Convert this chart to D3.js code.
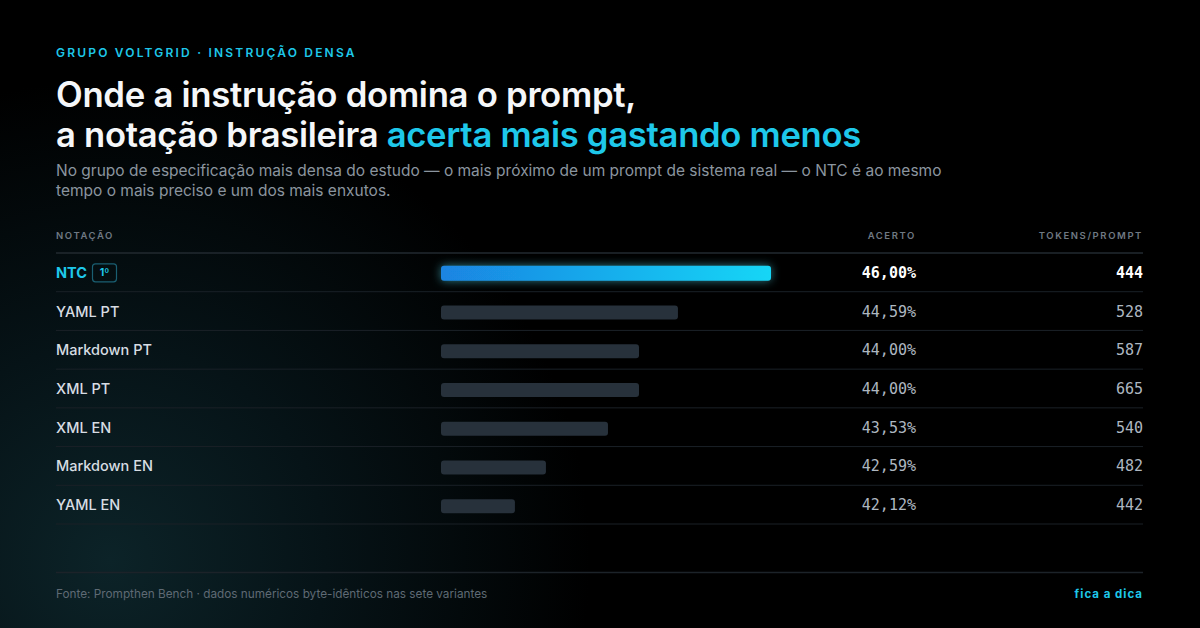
<!DOCTYPE html>
<html><head><meta charset="utf-8">
<script src="https://cdn.jsdelivr.net/npm/d3@7"></script>
<style>body{margin:0;background:#000;overflow:hidden} svg{display:block}</style>
</head><body><svg id="c" width="1200" height="628"></svg>
<script>
const notacoes = ["NTC","YAML PT","Markdown PT","XML PT","XML EN","Markdown EN","YAML EN"];
const acerto = [46.00,44.59,44.00,44.00,43.53,42.59,42.12];
const tokens = [444,528,587,665,540,482,442];
const colunas = ["NOTAÇÃO","ACERTO","TOKENS/PROMPT"];
const eyebrow = "GRUPO VOLTGRID · INSTRUÇÃO DENSA";
const titulo1 = "Onde a instrução domina o prompt,";
const titulo2a = "a notação brasileira ";
const titulo2b = "acerta mais gastando menos";
const subtitulo = ["No grupo de especificação mais densa do estudo — o mais próximo de um prompt de sistema real — o NTC é ao mesmo",
                   "tempo o mais preciso e um dos mais enxutos."];
const fonte = "Fonte: Prompthen Bench · dados numéricos byte-idênticos nas sete variantes";
const marca = "fica a dica";

const W = 1200, H = 628;
const svg = d3.select("#c");
const defs = svg.append("defs");
const SANS = "Inter, 'Noto Sans', sans-serif";
const MONO = "'DejaVu Sans Mono', 'Liberation Mono', monospace";
const CYAN = "#1ec8ea";

// background
const rg = defs.append("radialGradient").attr("id","bg").attr("gradientUnits","userSpaceOnUse")
  .attr("cx",110).attr("cy",560).attr("r",480);
rg.append("stop").attr("offset",0).attr("stop-color","#0c2328");
rg.append("stop").attr("offset",0.45).attr("stop-color","#061317");
rg.append("stop").attr("offset",1).attr("stop-color","#000000");
svg.append("rect").attr("width",W).attr("height",H).attr("fill","#000");
svg.append("rect").attr("width",W).attr("height",H).attr("fill","url(#bg)");

const lg = defs.append("linearGradient").attr("id","barg").attr("x1","0").attr("x2","1");
lg.append("stop").attr("offset",0).attr("stop-color","#1a84e2");
lg.append("stop").attr("offset",1).attr("stop-color","#16d6f6");
const flt = defs.append("filter").attr("id","glow").attr("x","-20%").attr("y","-150%").attr("width","140%").attr("height","400%");
flt.append("feGaussianBlur").attr("in","SourceGraphic").attr("stdDeviation",5).attr("result","b");
flt.append("feColorMatrix").attr("in","b").attr("type","matrix")
  .attr("values","0 0 0 0 0.08  0 0 0 0 0.75  0 0 0 0 0.9  0 0 0 0.55 0").attr("result","g");
const fm = flt.append("feMerge");
fm.append("feMergeNode").attr("in","g");
fm.append("feMergeNode").attr("in","SourceGraphic");

// helper to fit text width
function fit(sel, target){
  const w = sel.node().getComputedTextLength();
  const fs = parseFloat(sel.attr("font-size"));
  sel.attr("font-size", fs*target/w);
}

// header texts
svg.append("text").attr("x",56).attr("y",57).attr("fill",CYAN)
  .attr("font-family",SANS).attr("font-weight",600).attr("font-size",12)
  .attr("letter-spacing",2.2).text(eyebrow);

const t1 = svg.append("text").attr("x",56).attr("y",107).attr("fill","#f5f7f9")
  .attr("font-family",SANS).attr("font-weight",600).attr("font-size",34).attr("letter-spacing",-0.3).text(titulo1);
fit(t1, 580);
const t2 = svg.append("text").attr("x",56).attr("y",147)
  .attr("font-family",SANS).attr("font-weight",600).attr("font-size",34).attr("letter-spacing",-0.3);
t2.append("tspan").attr("fill","#f5f7f9").text(titulo2a);
t2.append("tspan").attr("fill",CYAN).text(titulo2b);
fit(t2, 805);

subtitulo.forEach((s,i)=>{
  const st = svg.append("text").attr("x",56).attr("y",176+i*20).attr("fill","#8b959f")
    .attr("font-family",SANS).attr("font-size",15.5).text(s);
  if(i===0) fit(st, 886);
});

// scales
const y = d3.scaleBand().domain(notacoes).range([253,524]);
const x = d3.scaleLinear().domain([41,46]).range([441,771]);
const fmt = v => d3.format(".2f")(v).replace(".",",") + "%";

// column headers
const colX = [56, 916, 1143];
const colA = ["start","end","end"];
colunas.forEach((c,i)=>{
  svg.append("text").attr("x",colX[i]).attr("y",239).attr("text-anchor",colA[i])
    .attr("fill","#6f7983").attr("font-family",SANS).attr("font-weight",600)
    .attr("font-size",9.5).attr("letter-spacing",1.6).text(c);
});

// lines
svg.append("line").attr("x1",56).attr("x2",1143).attr("y1",253).attr("y2",253)
  .attr("stroke","#222a31").attr("stroke-width",1.5);
svg.append("g").selectAll("line").data(notacoes).join("line")
  .attr("x1",56).attr("x2",1143)
  .attr("y1",d=>y(d)+y.bandwidth()).attr("y2",d=>y(d)+y.bandwidth())
  .attr("stroke","#1a2127").attr("stroke-width",1);
svg.append("line").attr("x1",56).attr("x2",1143).attr("y1",572.5).attr("y2",572.5)
  .attr("stroke","#1c2329").attr("stroke-width",1.5);

const rows = notacoes.map((n,i)=>({n, a:acerto[i], t:tokens[i], first:i===0}));
const cy = d => y(d.n) + y.bandwidth()/2;

// bars
svg.append("g").selectAll("rect").data(rows).join("rect")
  .attr("x",x(41)).attr("y",d=>cy(d)-6.5+(d.first?0:1))
  .attr("width",d=>x(d.a)-x(41)).attr("height",d=>d.first?15:14).attr("rx",3)
  .attr("fill",d=>d.first?"url(#barg)":"#27313b")
  .attr("filter",d=>d.first?"url(#glow)":null);

// labels
svg.append("g").selectAll("text").data(rows).join("text")
  .attr("x",56).attr("y",d=>cy(d)+5.5)
  .attr("fill",d=>d.first?CYAN:"#d7dde3")
  .attr("font-family",SANS).attr("font-weight",d=>d.first?700:500).attr("font-size",14.5)
  .text(d=>d.n);

// badge
const lead = rows[0];
const bx = 92, by = cy(lead)-9;
svg.append("rect").attr("x",bx+0.5).attr("y",by+0.5).attr("width",24).attr("height",18).attr("rx",3)
  .attr("fill","none").attr("stroke","#1a5f72").attr("stroke-width",1.2);
svg.append("text").attr("x",bx+12.5).attr("y",by+13).attr("text-anchor","middle")
  .attr("fill",CYAN).attr("font-family",SANS).attr("font-weight",700).attr("font-size",10.5).text("1º");

// values
svg.append("g").selectAll("text").data(rows).join("text")
  .attr("x",916).attr("y",d=>cy(d)+5.5).attr("text-anchor","end")
  .attr("fill",d=>d.first?"#ffffff":"#aeb7c0")
  .attr("font-family",MONO).attr("font-weight",d=>d.first?700:400).attr("font-size",15)
  .text(d=>fmt(d.a));
svg.append("g").selectAll("text").data(rows).join("text")
  .attr("x",1143).attr("y",d=>cy(d)+5.5).attr("text-anchor","end")
  .attr("fill",d=>d.first?"#ffffff":"#aeb7c0")
  .attr("font-family",MONO).attr("font-weight",d=>d.first?700:400).attr("font-size",15)
  .text(d=>d.t);

// footer
const ft = svg.append("text").attr("x",56).attr("y",598).attr("fill","#5f6a74")
  .attr("font-family",SANS).attr("font-size",12).text(fonte);
fit(ft, 432);
svg.append("text").attr("x",1143).attr("y",598).attr("text-anchor","end").attr("fill",CYAN)
  .attr("font-family",SANS).attr("font-weight",700).attr("font-size",11.5).attr("letter-spacing",1)
  .text(marca);
</script></body></html>
